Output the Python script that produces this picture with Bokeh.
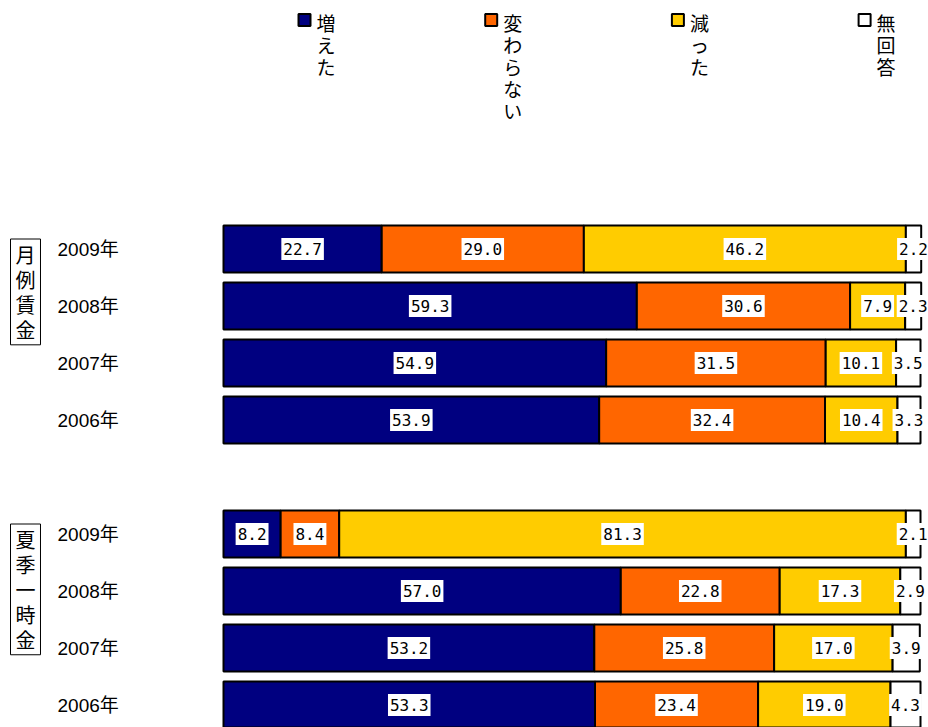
from bokeh.plotting import figure
from bokeh.models import Range1d, ColumnDataSource
from bokeh.core.properties import value
from bokeh.embed import file_html
from bokeh.resources import INLINE

# ---- data ----
series = ["増えた", "変わらない", "減った", "無回答"]
colors = ["#000080", "#FF6600", "#FFCC00", "#FFFFFF"]
groups = ["月例賃金", "夏季一時金"]
years = ["2009年", "2008年", "2007年", "2006年"]
monthly_up = [22.7, 59.3, 54.9, 53.9]
monthly_same = [29.0, 30.6, 31.5, 32.4]
monthly_down = [46.2, 7.9, 10.1, 10.4]
monthly_na = [2.2, 2.3, 3.5, 3.3]
bonus_up = [8.2, 57.0, 53.2, 53.3]
bonus_same = [8.4, 22.8, 25.8, 23.4]
bonus_down = [81.3, 17.3, 17.0, 19.0]
bonus_na = [2.1, 2.9, 3.9, 4.3]

group_values = [
    [monthly_up, monthly_same, monthly_down, monthly_na],
    [bonus_up, bonus_same, bonus_down, bonus_na],
]

# ---- layout constants (pixels) ----
W, H = 928, 727
BAR_X0 = 223.0         # pixel of 0 %
PX_PER_PCT = 6.97      # pixels per percent
ROW0_PX = 248.5        # pixel of first row centre
ROW_PX = 57.0          # pixels per row

def px_x(px):
    return (px - BAR_X0) / PX_PER_PCT

def px_y(py):
    return (py - ROW0_PX) / ROW_PX

p = figure(width=W, height=H, output_backend="svg", toolbar_location=None,
           x_range=Range1d(px_x(0), px_x(W)),
           y_range=Range1d(px_y(H), px_y(0)),
           min_border=0)
p.xaxis.visible = False
p.yaxis.visible = False
p.grid.visible = False
p.outline_line_color = None
p.background_fill_color = "white"
p.border_fill_color = "white"

# rows: group 0 -> 0..3, blank row, group 1 -> 5..8
rows, lefts, rights, cols, labels, mids, ylab_rows, ylab_text = [], [], [], [], [], [], [], []
for g, vals in enumerate(group_values):
    for i, yr in enumerate(years):
        r = g * (len(years) + 1) + i
        ylab_rows.append(r)
        ylab_text.append(yr)
        left = 0.0
        for s in range(len(series)):
            v = vals[s][i]
            rows.append(r)
            lefts.append(left)
            rights.append(left + v)
            mids.append(left + v / 2)
            cols.append(colors[s])
            labels.append("%.1f" % v)
            left += v

src = ColumnDataSource(dict(y=rows, left=lefts, right=rights, color=cols, mid=mids, label=labels))
p.hbar(y="y", left="left", right="right", height=47 / ROW_PX, fill_color="color",
       line_color="black", line_width=2, source=src)
p.text(x="mid", y="y", text="label", source=src, text_align="center", text_baseline="middle",
       text_font=value("DejaVu Sans Mono"), text_font_size="16px", text_color="black",
       background_fill_color="white", padding=(2, 5))

# year labels
p.text(x=[px_x(57)] * len(ylab_rows), y=ylab_rows, text=ylab_text, text_align="left",
       text_baseline="middle", text_font=value("Liberation Sans, Noto Sans CJK JP"),
       text_font_size="19px", text_color="black")

# group labels (vertical, boxed)
gx = [px_x(25)] * len(groups)
gy = [g * (len(years) + 1) - 10 / ROW_PX for g in range(len(groups))]
p.text(x=gx, y=gy, text=["\n".join(list(t)) for t in groups], text_align="center",
       text_baseline="top", text_font=value("Noto Sans CJK JP"), text_font_size="20px",
       text_line_height=0.86, text_color="black", border_line_color="black",
       border_line_width=1, padding=(5, 1), background_fill_color="white")

# legend
lx = [px_x(304 + 186.7 * k) for k in range(len(series))]
ly = [px_y(19.5)] * len(series)
p.rect(x=lx, y=ly, width=12, height=12, width_units="screen", height_units="screen",
       fill_color=colors, line_color="black", line_width=2)
p.text(x=[px_x(316 + 186.7 * k) for k in range(len(series))], y=[px_y(8)] * len(series),
       text=["\n".join(list(t)) for t in series], text_align="left", text_baseline="top",
       text_font=value("Noto Sans CJK JP"), text_font_size="19px", text_line_height=0.82,
       text_color="black")

open("out.html", "w").write(file_html(p, INLINE))
